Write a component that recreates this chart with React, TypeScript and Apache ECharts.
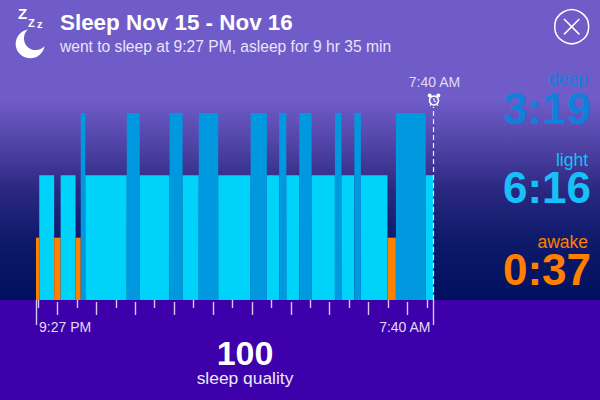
import React, { useEffect, useRef } from "react";
import * as echarts from "echarts";

const TITLE = "Sleep Nov 15 - Nov 16";
const SUBTITLE = "went to sleep at 9:27 PM, asleep for 9 hr 35 min";
const START_LABEL = "9:27 PM";
const END_LABEL = "7:40 AM";
const TOTAL_MINUTES = 613;
const QUALITY = "100";
const QUALITY_LABEL = "sleep quality";

// minutes after 9:27 PM where each phase starts
const phaseStarts = [0, 5, 28, 38, 61, 69, 76, 140, 160, 206, 226, 251, 281, 331, 356, 375, 386, 406, 425, 461, 471, 491, 501, 542, 555, 601];
const phaseEnds = [5, 28, 38, 61, 69, 76, 140, 160, 206, 226, 251, 281, 331, 356, 375, 386, 406, 425, 461, 471, 491, 501, 542, 555, 601, 613];
const phaseKinds = ["awake", "light", "awake", "light", "awake", "deep", "light", "deep", "light", "deep", "light", "deep", "light", "deep", "light", "deep", "light", "deep", "light", "deep", "light", "deep", "light", "awake", "deep", "light"];

const levels: Record<string, number> = { awake: 1, light: 2, deep: 3 };
const barColors: Record<string, string> = { awake: "#FF8000", light: "#00D3F9", deep: "#0099DF" };

const shortTicks = [3, 63, 123, 183, 243, 303, 363, 423, 483, 543, 603];
const longTicks = [33, 93, 153, 213, 273, 333, 393, 453, 513, 573];
const endTicks = [0, TOTAL_MINUTES];

const statLabels = ["deep", "light", "awake"];
const statValues = ["3:19", "6:16", "0:37"];
const statColors = ["#1080DD", "#17C1F8", "#FF8000"];

const FONT = '"Liberation Sans", Arial, sans-serif';

echarts.graphic.registerShape(
  "moon",
  echarts.graphic.extendPath("M28 29.5 A14.5 14.5 0 1 0 44.5 46 A11.7 11.7 0 1 1 28 29.5 Z", {})
);

function txt(text: string, x: number, y: number, size: number, fill: string, weight = "normal", align = "left") {
  return {
    type: "text",
    x,
    y,
    silent: true,
    style: { text, fill, fontFamily: FONT, fontSize: size, fontWeight: weight, align, verticalAlign: "middle" },
  };
}

function tickAxis(offset: number, customValues: number[], length: number, extra: object = {}) {
  return {
    type: "value",
    min: 0,
    max: TOTAL_MINUTES,
    position: "bottom",
    offset,
    splitLine: { show: false },
    axisLine: { show: false },
    axisLabel: { show: false },
    axisTick: { show: true, customValues, length, inside: false, lineStyle: { color: "#D3C9F0", width: 1.4 } },
    ...extra,
  };
}

export default function App() {
  const ref = useRef<HTMLDivElement>(null);

  useEffect(() => {
    const chart = echarts.init(ref.current!, null, { renderer: "svg" });
    const data = phaseStarts.map((s, i) => [s, phaseEnds[i], levels[phaseKinds[i]], phaseKinds[i]]);
    const statRows = [
      { labelY: 79, valueY: 108 },
      { labelY: 160, valueY: 187 },
      { labelY: 242, valueY: 269 },
    ];
    chart.setOption({
      animation: false,
      backgroundColor: {
        type: "linear",
        x: 0,
        y: 0,
        x2: 0,
        y2: 1,
        colorStops: [
          { offset: 0, color: "#705CC8" },
          { offset: 0.25, color: "#705CC8" },
          { offset: 0.375, color: "#4C40A2" },
          { offset: 0.475, color: "#2A2880" },
          { offset: 0.6, color: "#0E1A6B" },
          { offset: 0.75, color: "#00105E" },
          { offset: 1, color: "#00105E" },
        ],
      },
      grid: { left: 36, right: 166.5, top: 106.77, bottom: 100 },
      xAxis: [
        tickAxis(2, shortTicks, 8),
        tickAxis(2, longTicks, 13),
        tickAxis(0, endTicks, 25, {
          axisLabel: {
            show: true,
            customValues: endTicks,
            margin: 20,
            padding: [0, 3, 0, 3],
            color: "#E2DBF5",
            fontFamily: FONT,
            fontSize: 14,
            alignMinLabel: "left",
            alignMaxLabel: "right",
            formatter: (v: number) => (v === 0 ? START_LABEL : END_LABEL),
          },
        }),
      ],
      yAxis: { type: "value", min: 0, max: 3.1, show: false },
      graphic: [
        { type: "rect", z: -1, silent: true, shape: { x: 0, y: 300, width: 600, height: 100 }, style: { fill: "#3D00AB" } },
        txt("Z", 18, 13.5, 15, "#fff", "bold"),
        txt("Z", 28, 22.5, 11, "#fff", "bold"),
        txt("z", 37, 23.5, 11, "#fff", "bold"),
        { type: "moon", x: 0, y: 0, silent: true, style: { fill: "#fff" } },
        txt(TITLE, 60, 22.5, 22.4, "#fff", "bold"),
        txt(SUBTITLE, 60, 46.5, 15.6, "#E8E3F7"),
        { type: "circle", shape: { cx: 571.7, cy: 26.7, r: 17 }, style: { fill: "none", stroke: "#fff", lineWidth: 1.5 } },
        { type: "line", shape: { x1: 564, y1: 19, x2: 579.4, y2: 34.4 }, style: { stroke: "#fff", lineWidth: 1.5 } },
        { type: "line", shape: { x1: 579.4, y1: 19, x2: 564, y2: 34.4 }, style: { stroke: "#fff", lineWidth: 1.5 } },
        txt(END_LABEL, 434.5, 82, 14, "#E2DBF5", "normal", "center"),
        { type: "circle", shape: { cx: 429.7, cy: 95.5, r: 2 }, style: { fill: "#fff" } },
        { type: "circle", shape: { cx: 438.3, cy: 95.5, r: 2 }, style: { fill: "#fff" } },
        { type: "circle", shape: { cx: 434, cy: 100.5, r: 4.5 }, style: { fill: "#705CC8", stroke: "#fff", lineWidth: 1.6 } },
        { type: "line", shape: { x1: 434, y1: 98, x2: 434, y2: 101 }, style: { stroke: "#fff", lineWidth: 1 } },
        { type: "line", shape: { x1: 434, y1: 101, x2: 436, y2: 102 }, style: { stroke: "#fff", lineWidth: 1 } },
        { type: "line", shape: { x1: 431, y1: 104, x2: 430, y2: 106 }, style: { stroke: "#fff", lineWidth: 1 } },
        { type: "line", shape: { x1: 437, y1: 104, x2: 438, y2: 106 }, style: { stroke: "#fff", lineWidth: 1 } },
        ...statLabels.flatMap((label, i) => [
          txt(label, 588, statRows[i].labelY, 17.5, statColors[i], "normal", "right"),
          txt(statValues[i], 591, statRows[i].valueY, 44, statColors[i], "bold", "right"),
        ]),
        txt(QUALITY, 245, 353, 34, "#fff", "bold", "center"),
        txt(QUALITY_LABEL, 245, 378, 17.4, "#EDE8F9", "normal", "center"),
      ],
      series: [
        {
          type: "custom",
          xAxisIndex: 0,
          data,
          encode: { x: [0, 1], y: 2 },
          renderItem: (_: unknown, api: any) => {
            const a = api.coord([api.value(0), api.value(2)]);
            const b = api.coord([api.value(1), 0]);
            return {
              type: "rect",
              shape: { x: a[0], y: a[1], width: b[0] - a[0], height: b[1] - a[1] },
              style: { fill: barColors[api.value(3)] },
            };
          },
          markLine: {
            silent: true,
            symbol: "none",
            label: { show: false },
            lineStyle: { color: "#EDE8F9", type: [5, 3], width: 1.2 },
            data: [[{ coord: [TOTAL_MINUTES, 0] }, { coord: [TOTAL_MINUTES, 3.1] }]],
          },
        },
      ],
    });
    return () => chart.dispose();
  }, []);

  return <div ref={ref} style={{ position: "fixed", left: 0, top: 0, width: 600, height: 400 }} />;
}
